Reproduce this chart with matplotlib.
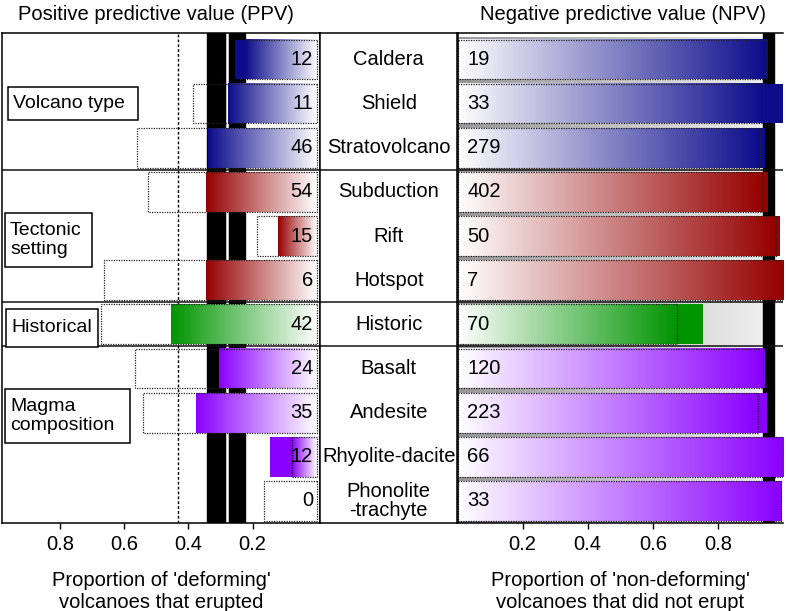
import numpy as np
import matplotlib
matplotlib.use("Agg")
from matplotlib import pyplot as plt
from matplotlib import patches as mpatches
from matplotlib.colors import to_rgb

plt.rcParams['font.family'] = ['Liberation Sans', 'DejaVu Sans']

# data
categories = ['Caldera', 'Shield', 'Stratovolcano', 'Subduction', 'Rift', 'Hotspot',
              'Historic', 'Basalt', 'Andesite', 'Rhyolite-dacite', 'Phonolite\n-trachyte']
row_colors = ['#0c0c8c'] * 3 + ['#960000'] * 3 + ['#009400'] + ['#8a00ff'] * 4
ppv = [0.254, 0.276, 0.338, 0.345, 0.12, 0.345, 0.455, 0.304, 0.376, 0.145, 0.0]
ppv_box = [0.225, 0.384, 0.56, 0.526, 0.186, 0.662, 0.672, 0.566, 0.541, 0.077, 0.163]
ppv_n = [12, 11, 46, 54, 15, 6, 42, 24, 35, 12, 0]
npv = [0.955, 1.0, 0.946, 0.955, 0.99, 1.0, 0.755, 0.946, 0.952, 1.0, 0.995]
npv_box = [0.948, 0.94, 0.928, 0.937, 0.98, 1.0, 0.675, 0.94, 0.922, 1.0, 0.995]
npv_n = [19, 33, 279, 402, 50, 7, 70, 120, 223, 66, 33]
group_names = ['Volcano type', 'Tectonic\nsetting', 'Historical', 'Magma\ncomposition']
group_breaks = [2.5, 5.5, 6.5]
ppv_all = (0.223, 0.341, 0.279)   # low, high, mid line
npv_all = (0.94, 0.971)
ppv_ref = 0.432
npv_bg = 0.955

FS = 14.5
W, H = 786, 611
fig = plt.figure(figsize=(W / 100, H / 100), dpi=100)


def rect(x0, x1, y0=33, y1=523):
    return [x0 / W, 1 - y1 / H, (x1 - x0) / W, (y1 - y0) / H]


axL = fig.add_axes(rect(2, 320))
axM = fig.add_axes(rect(320, 457.5))
axR = fig.add_axes(rect(457.5, 783))

bh = 0.9
y = np.arange(len(categories))


def grad(ax, start, end, yc, h, c0, c1, z):
    # column 0 gets c0 and sits at x=start
    n = 256
    t = np.linspace(0, 1, n)[None, :, None]
    img = np.array(to_rgb(c0))[None, None, :] * (1 - t) + np.array(to_rgb(c1))[None, None, :] * t
    ax.imshow(img, extent=[start, end, yc + h / 2, yc - h / 2], aspect='auto',
              interpolation='bilinear', zorder=z)


# left panel
axL.axvline(ppv_ref, color='black', ls=(0, (2, 1.5)), lw=1, zorder=1)
axL.axvspan(ppv_all[0], ppv_all[1], color='black', zorder=2)
axL.axvline(ppv_all[2], color='white', lw=1.8, zorder=2.5)
for i in range(len(categories)):
    c = row_colors[i]
    g = min(ppv[i], ppv_box[i])
    if g > 0:
        grad(axL, g, 0, y[i], bh, c, 'white', 3)
    if ppv[i] > g:
        axL.add_patch(mpatches.Rectangle((g, y[i] - bh / 2), ppv[i] - g, bh, color=c, lw=0, zorder=3))
    axL.add_patch(mpatches.Rectangle((0, y[i] - bh / 2), ppv_box[i], bh, fill=False,
                                     ls=(0, (1, 1)), lw=0.9, ec='#222222', zorder=4))
    axL.text(0.012, y[i], str(ppv_n[i]), ha='right', va='center', fontsize=FS, zorder=5)

# right panel
for i in range(len(categories)):
    grad(axR, 0, npv_bg, y[i], 1.0, '#989898', '#f0f0f0', 1)
axR.axvspan(npv_all[0], npv_all[1], color='black', zorder=2)
for i in range(len(categories)):
    c = row_colors[i]
    g = min(npv[i], npv_box[i])
    grad(axR, 0, g, y[i], bh, 'white', c, 3)
    if npv[i] > g:
        axR.add_patch(mpatches.Rectangle((g, y[i] - bh / 2), npv[i] - g, bh, color=c, lw=0, zorder=3))
    axR.add_patch(mpatches.Rectangle((0, y[i] - bh / 2), npv_box[i], bh, fill=False,
                                     ls=(0, (1, 1)), lw=0.9, ec='#222222', zorder=4))
    axR.text(0.03, y[i], str(npv_n[i]), ha='left', va='center', fontsize=FS, zorder=5)

# middle labels
for i in range(len(categories)):
    axM.text(0.5, y[i], categories[i], ha='center', va='center', fontsize=FS, linespacing=1.05)

for ax in (axL, axM, axR):
    ax.set_ylim(10.5, -0.6)
    ax.set_yticks([])
    for b in group_breaks:
        ax.axhline(b, color='#111111', lw=1.1, zorder=6)
    for s in ax.spines.values():
        s.set_linewidth(1.1)
        s.set_zorder(7)

axL.set_xlim(0.98, -0.01)
axR.set_xlim(0, 1.0)
axM.set_xlim(0, 1)
axM.set_xticks([])
axR.spines['right'].set_visible(False)

axL.set_xticks([0.8, 0.6, 0.4, 0.2])
axR.set_xticks([0.2, 0.4, 0.6, 0.8])
for ax in (axL, axR):
    ax.tick_params(axis='x', direction='out', length=4, width=1, labelsize=FS, pad=5)

axL.set_xlabel("Proportion of 'deforming'\nvolcanoes that erupted", fontsize=FS, labelpad=12, linespacing=1.2)
axR.set_xlabel("Proportion of 'non-deforming'\nvolcanoes that did not erupt", fontsize=FS, labelpad=12, linespacing=1.2)
fig.text(156 / W, 1 - 14 / H, 'Positive predictive value (PPV)', ha='center', va='center', fontsize=FS)
fig.text(623 / W, 1 - 14 / H, 'Negative predictive value (NPV)', ha='center', va='center', fontsize=FS)

# group label boxes (pixel layout)
boxes = [(8, 87, 138, 120), (5, 213, 92, 267), (6, 309, 98, 347), (5, 389, 130, 443)]
for name, (x0, y0, x1, y1) in zip(group_names, boxes):
    fig.patches.append(mpatches.Rectangle((x0 / W, 1 - y1 / H), (x1 - x0) / W, (y1 - y0) / H,
                                          transform=fig.transFigure, fill=True, fc='white',
                                          ec='black', lw=1.1, zorder=8))
    fig.text((x0 + 5) / W, 1 - (y0 + y1) / 2 / H, name, ha='left', va='center',
             fontsize=14, linespacing=1.1, zorder=9)

plt.savefig('out.png', dpi=100)
